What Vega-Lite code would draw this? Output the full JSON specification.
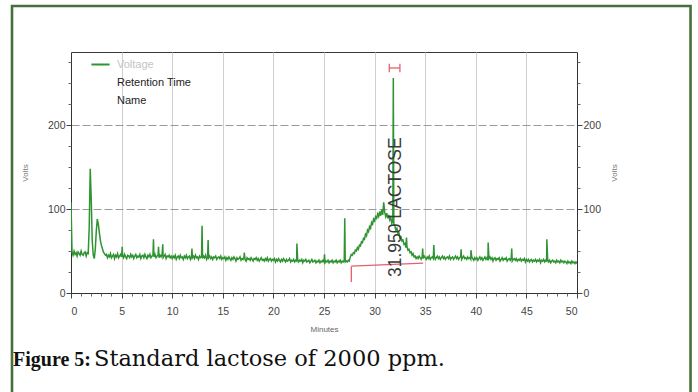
{
  "$schema": "https://vega.github.io/schema/vega-lite/v6.json",
  "autosize": "none",
  "width": 506,
  "height": 241,
  "padding": {"left": 71, "top": 52, "right": 121, "bottom": 99},
  "background": "white",
  "config": {
    "view": {"stroke": "#3a3a3a", "strokeWidth": 1},
    "axis": {"labelFont": "Liberation Sans", "titleFont": "Liberation Sans", "titleFontWeight": "normal"}
  },
  "datasets": {
    "trace": [
      {"t":0,"v":108},{"t":0.1,"v":49},{"t":0.2,"v":45},{"t":0.3,"v":50},{"t":0.4,"v":46},{"t":0.5,"v":48},{"t":0.6,"v":44},{"t":0.7,"v":49},{"t":0.8,"v":47},{"t":0.9,"v":45},
      {"t":1.0,"v":50},{"t":1.1,"v":46},{"t":1.2,"v":45},{"t":1.3,"v":48},{"t":1.4,"v":49},{"t":1.5,"v":44},{"t":1.6,"v":48},{"t":1.7,"v":47},{"t":1.8,"v":78},{"t":1.9,"v":148},
      {"t":2.0,"v":112},{"t":2.1,"v":62},{"t":2.2,"v":45},{"t":2.3,"v":41},{"t":2.4,"v":52},{"t":2.5,"v":74},{"t":2.6,"v":88},{"t":2.7,"v":82},{"t":2.8,"v":72},{"t":2.9,"v":63},
      {"t":3.0,"v":57},{"t":3.1,"v":53},{"t":3.2,"v":49},{"t":3.3,"v":47},{"t":3.4,"v":45},{"t":3.5,"v":46},{"t":3.6,"v":42},{"t":3.7,"v":45},{"t":3.8,"v":43},{"t":3.9,"v":47},
      {"t":4.0,"v":42},{"t":4.1,"v":44},{"t":4.2,"v":46},{"t":4.3,"v":41},{"t":4.4,"v":45},{"t":4.5,"v":43},{"t":4.6,"v":47},{"t":4.7,"v":42},{"t":4.8,"v":44},{"t":4.9,"v":46},
      {"t":5.0,"v":43},{"t":5.06,"v":55},{"t":5.1,"v":45},{"t":5.2,"v":42},{"t":5.3,"v":46},{"t":5.4,"v":43},{"t":5.5,"v":41},{"t":5.6,"v":45},{"t":5.7,"v":44},{"t":5.8,"v":42},{"t":5.9,"v":46},
      {"t":6.0,"v":43},{"t":6.1,"v":45},{"t":6.2,"v":41},{"t":6.3,"v":44},{"t":6.4,"v":46},{"t":6.5,"v":42},{"t":6.6,"v":44},{"t":6.7,"v":43},{"t":6.8,"v":46},{"t":6.9,"v":41},
      {"t":7.0,"v":44},{"t":7.1,"v":45},{"t":7.2,"v":42},{"t":7.3,"v":46},{"t":7.4,"v":43},{"t":7.5,"v":41},{"t":7.6,"v":45},{"t":7.7,"v":43},{"t":7.8,"v":46},{"t":7.9,"v":42},
      {"t":8.0,"v":44},{"t":8.1,"v":45},{"t":8.15,"v":64},{"t":8.2,"v":43},{"t":8.3,"v":46},{"t":8.4,"v":42},{"t":8.5,"v":44},{"t":8.6,"v":45},{"t":8.65,"v":55},{"t":8.7,"v":42},{"t":8.8,"v":45},{"t":8.9,"v":43},
      {"t":9.0,"v":46},{"t":9.07,"v":58},{"t":9.1,"v":42},{"t":9.2,"v":44},{"t":9.3,"v":46},{"t":9.4,"v":41},{"t":9.5,"v":44},{"t":9.6,"v":43},{"t":9.7,"v":45},{"t":9.8,"v":42},{"t":9.9,"v":44},
      {"t":10.0,"v":41},{"t":10.1,"v":44},{"t":10.2,"v":42},{"t":10.3,"v":45},{"t":10.4,"v":40},{"t":10.5,"v":43},{"t":10.6,"v":44},{"t":10.7,"v":41},{"t":10.8,"v":45},{"t":10.9,"v":42},
      {"t":11.0,"v":43},{"t":11.1,"v":40},{"t":11.2,"v":44},{"t":11.3,"v":42},{"t":11.4,"v":45},{"t":11.5,"v":41},{"t":11.6,"v":43},{"t":11.7,"v":44},{"t":11.8,"v":40},{"t":11.9,"v":43},{"t":11.95,"v":53},
      {"t":12.0,"v":42},{"t":12.1,"v":44},{"t":12.2,"v":41},{"t":12.3,"v":45},{"t":12.4,"v":42},{"t":12.5,"v":43},{"t":12.6,"v":40},{"t":12.7,"v":44},{"t":12.8,"v":42},{"t":12.9,"v":43},{"t":12.95,"v":80},
      {"t":13.0,"v":41},{"t":13.1,"v":44},{"t":13.2,"v":42},{"t":13.3,"v":45},{"t":13.4,"v":40},{"t":13.5,"v":43},{"t":13.55,"v":63},{"t":13.6,"v":42},{"t":13.7,"v":44},{"t":13.8,"v":41},{"t":13.9,"v":43},
      {"t":14.0,"v":40},{"t":14.1,"v":43},{"t":14.2,"v":42},{"t":14.3,"v":44},{"t":14.4,"v":40},{"t":14.5,"v":42},{"t":14.6,"v":43},{"t":14.7,"v":41},{"t":14.8,"v":44},{"t":14.9,"v":40},
      {"t":15.0,"v":42},{"t":15.1,"v":41},{"t":15.2,"v":43},{"t":15.3,"v":39},{"t":15.4,"v":42},{"t":15.5,"v":40},{"t":15.6,"v":43},{"t":15.7,"v":41},{"t":15.8,"v":39},{"t":15.9,"v":42},
      {"t":16.0,"v":40},{"t":16.1,"v":43},{"t":16.2,"v":41},{"t":16.3,"v":38},{"t":16.4,"v":42},{"t":16.5,"v":40},{"t":16.6,"v":41},{"t":16.7,"v":43},{"t":16.8,"v":39},{"t":16.9,"v":41},
      {"t":17.0,"v":40},{"t":17.1,"v":43},{"t":17.12,"v":48},{"t":17.2,"v":40},{"t":17.3,"v":38},{"t":17.4,"v":42},{"t":17.5,"v":40},{"t":17.6,"v":41},{"t":17.7,"v":39},{"t":17.8,"v":42},{"t":17.9,"v":40},
      {"t":18.0,"v":38},{"t":18.1,"v":41},{"t":18.2,"v":40},{"t":18.3,"v":42},{"t":18.4,"v":39},{"t":18.5,"v":41},{"t":18.6,"v":38},{"t":18.7,"v":40},{"t":18.8,"v":42},{"t":18.9,"v":39},
      {"t":19.0,"v":40},{"t":19.1,"v":38},{"t":19.2,"v":41},{"t":19.3,"v":39},{"t":19.4,"v":42},{"t":19.5,"v":38},{"t":19.6,"v":40},{"t":19.7,"v":41},{"t":19.8,"v":38},{"t":19.9,"v":40},
      {"t":20.0,"v":39},{"t":20.1,"v":41},{"t":20.2,"v":37},{"t":20.3,"v":40},{"t":20.4,"v":38},{"t":20.5,"v":41},{"t":20.6,"v":39},{"t":20.7,"v":37},{"t":20.8,"v":40},{"t":20.9,"v":38},
      {"t":21.0,"v":41},{"t":21.1,"v":39},{"t":21.2,"v":37},{"t":21.3,"v":40},{"t":21.4,"v":38},{"t":21.5,"v":39},{"t":21.6,"v":41},{"t":21.7,"v":37},{"t":21.8,"v":39},{"t":21.9,"v":38},
      {"t":22.0,"v":40},{"t":22.1,"v":37},{"t":22.2,"v":39},{"t":22.3,"v":38},{"t":22.32,"v":59},{"t":22.4,"v":40},{"t":22.5,"v":37},{"t":22.6,"v":39},{"t":22.7,"v":38},{"t":22.8,"v":40},{"t":22.9,"v":36},
      {"t":23.0,"v":39},{"t":23.1,"v":38},{"t":23.2,"v":40},{"t":23.3,"v":37},{"t":23.4,"v":38},{"t":23.5,"v":39},{"t":23.6,"v":36},{"t":23.7,"v":38},{"t":23.8,"v":40},{"t":23.9,"v":37},
      {"t":24.0,"v":38},{"t":24.1,"v":39},{"t":24.2,"v":36},{"t":24.3,"v":38},{"t":24.4,"v":37},{"t":24.5,"v":39},{"t":24.6,"v":36},{"t":24.7,"v":38},{"t":24.8,"v":37},{"t":24.9,"v":39},
      {"t":25.0,"v":37},{"t":25.05,"v":46},{"t":25.1,"v":36},{"t":25.2,"v":38},{"t":25.3,"v":37},{"t":25.4,"v":39},{"t":25.5,"v":36},{"t":25.6,"v":38},{"t":25.7,"v":37},{"t":25.8,"v":39},{"t":25.9,"v":36},
      {"t":26.0,"v":38},{"t":26.1,"v":37},{"t":26.2,"v":39},{"t":26.3,"v":36},{"t":26.4,"v":38},{"t":26.5,"v":37},{"t":26.6,"v":39},{"t":26.7,"v":36},{"t":26.8,"v":38},{"t":26.9,"v":37},
      {"t":27.0,"v":39},{"t":27.05,"v":89},{"t":27.1,"v":37},{"t":27.2,"v":38},{"t":27.3,"v":37},{"t":27.4,"v":39},{"t":27.5,"v":38},{"t":27.6,"v":43},{"t":27.7,"v":46},{"t":27.8,"v":45},{"t":27.9,"v":48},
      {"t":28.0,"v":47},{"t":28.1,"v":51},{"t":28.2,"v":50},{"t":28.3,"v":54},{"t":28.4,"v":52},{"t":28.5,"v":57},{"t":28.6,"v":56},{"t":28.7,"v":61},{"t":28.8,"v":60},{"t":28.9,"v":65},
      {"t":29.0,"v":64},{"t":29.1,"v":70},{"t":29.2,"v":68},{"t":29.3,"v":75},{"t":29.4,"v":73},{"t":29.5,"v":79},{"t":29.6,"v":77},{"t":29.7,"v":84},{"t":29.8,"v":82},{"t":29.9,"v":88},
      {"t":30.0,"v":86},{"t":30.1,"v":91},{"t":30.2,"v":89},{"t":30.3,"v":94},{"t":30.4,"v":91},{"t":30.5,"v":97},{"t":30.6,"v":92},{"t":30.7,"v":99},{"t":30.8,"v":93},{"t":30.9,"v":108},
      {"t":31.0,"v":96},{"t":31.1,"v":91},{"t":31.2,"v":95},{"t":31.3,"v":89},{"t":31.4,"v":93},{"t":31.5,"v":87},{"t":31.6,"v":90},{"t":31.7,"v":83},{"t":31.8,"v":86},{"t":31.85,"v":256},{"t":31.9,"v":82},
      {"t":32.0,"v":80},{"t":32.1,"v":75},{"t":32.2,"v":77},{"t":32.3,"v":71},{"t":32.4,"v":72},{"t":32.5,"v":66},{"t":32.6,"v":67},{"t":32.7,"v":62},{"t":32.8,"v":63},{"t":32.9,"v":58},
      {"t":33.0,"v":59},{"t":33.1,"v":54},{"t":33.15,"v":66},{"t":33.2,"v":55},{"t":33.3,"v":51},{"t":33.4,"v":52},{"t":33.5,"v":48},{"t":33.6,"v":49},{"t":33.7,"v":45},{"t":33.8,"v":47},{"t":33.9,"v":43},
      {"t":34.0,"v":44},{"t":34.1,"v":41},{"t":34.2,"v":43},{"t":34.3,"v":41},{"t":34.4,"v":44},{"t":34.5,"v":42},{"t":34.6,"v":40},{"t":34.7,"v":43},{"t":34.75,"v":53},{"t":34.8,"v":41},{"t":34.9,"v":44},
      {"t":35.0,"v":42},{"t":35.1,"v":40},{"t":35.2,"v":43},{"t":35.3,"v":41},{"t":35.4,"v":44},{"t":35.5,"v":40},{"t":35.6,"v":42},{"t":35.7,"v":43},{"t":35.8,"v":41},{"t":35.85,"v":57},{"t":35.9,"v":44},
      {"t":36.0,"v":40},{"t":36.1,"v":42},{"t":36.2,"v":44},{"t":36.3,"v":41},{"t":36.4,"v":43},{"t":36.5,"v":40},{"t":36.6,"v":42},{"t":36.7,"v":44},{"t":36.8,"v":41},{"t":36.9,"v":43},
      {"t":37.0,"v":40},{"t":37.1,"v":42},{"t":37.2,"v":43},{"t":37.3,"v":41},{"t":37.4,"v":44},{"t":37.5,"v":40},{"t":37.6,"v":42},{"t":37.7,"v":43},{"t":37.8,"v":40},{"t":37.9,"v":42},
      {"t":38.0,"v":44},{"t":38.1,"v":41},{"t":38.2,"v":43},{"t":38.3,"v":40},{"t":38.4,"v":42},{"t":38.5,"v":43},{"t":38.55,"v":52},{"t":38.6,"v":40},{"t":38.7,"v":42},{"t":38.8,"v":44},{"t":38.9,"v":41},
      {"t":39.0,"v":42},{"t":39.1,"v":40},{"t":39.2,"v":43},{"t":39.3,"v":41},{"t":39.4,"v":42},{"t":39.5,"v":40},{"t":39.52,"v":51},{"t":39.6,"v":43},{"t":39.7,"v":41},{"t":39.8,"v":39},{"t":39.9,"v":42},
      {"t":40.0,"v":40},{"t":40.1,"v":42},{"t":40.2,"v":39},{"t":40.3,"v":41},{"t":40.4,"v":43},{"t":40.5,"v":40},{"t":40.6,"v":42},{"t":40.7,"v":39},{"t":40.8,"v":41},{"t":40.9,"v":43},
      {"t":41.0,"v":40},{"t":41.1,"v":42},{"t":41.2,"v":39},{"t":41.22,"v":60},{"t":41.3,"v":41},{"t":41.4,"v":43},{"t":41.5,"v":40},{"t":41.6,"v":42},{"t":41.7,"v":38},{"t":41.8,"v":41},{"t":41.9,"v":42},
      {"t":42.0,"v":39},{"t":42.1,"v":41},{"t":42.2,"v":40},{"t":42.3,"v":42},{"t":42.4,"v":38},{"t":42.5,"v":40},{"t":42.6,"v":42},{"t":42.7,"v":39},{"t":42.8,"v":41},{"t":42.9,"v":40},
      {"t":43.0,"v":42},{"t":43.1,"v":38},{"t":43.2,"v":40},{"t":43.3,"v":41},{"t":43.4,"v":39},{"t":43.5,"v":42},{"t":43.55,"v":53},{"t":43.6,"v":38},{"t":43.7,"v":40},{"t":43.8,"v":41},{"t":43.9,"v":39},
      {"t":44.0,"v":41},{"t":44.1,"v":38},{"t":44.2,"v":40},{"t":44.3,"v":39},{"t":44.4,"v":41},{"t":44.5,"v":38},{"t":44.6,"v":40},{"t":44.7,"v":39},{"t":44.8,"v":41},{"t":44.9,"v":37},
      {"t":45.0,"v":40},{"t":45.1,"v":38},{"t":45.2,"v":40},{"t":45.3,"v":37},{"t":45.4,"v":39},{"t":45.5,"v":40},{"t":45.6,"v":37},{"t":45.7,"v":39},{"t":45.8,"v":38},{"t":45.9,"v":40},
      {"t":46.0,"v":37},{"t":46.1,"v":39},{"t":46.2,"v":38},{"t":46.3,"v":40},{"t":46.4,"v":36},{"t":46.5,"v":39},{"t":46.6,"v":38},{"t":46.7,"v":40},{"t":46.8,"v":37},{"t":46.9,"v":39},
      {"t":47.0,"v":38},{"t":47.02,"v":64},{"t":47.1,"v":40},{"t":47.2,"v":37},{"t":47.3,"v":39},{"t":47.4,"v":36},{"t":47.5,"v":38},{"t":47.6,"v":39},{"t":47.7,"v":37},{"t":47.8,"v":38},{"t":47.9,"v":36},
      {"t":48.0,"v":39},{"t":48.1,"v":37},{"t":48.2,"v":38},{"t":48.3,"v":36},{"t":48.4,"v":39},{"t":48.5,"v":37},{"t":48.6,"v":38},{"t":48.7,"v":36},{"t":48.8,"v":38},{"t":48.9,"v":37},
      {"t":49.0,"v":35},{"t":49.1,"v":38},{"t":49.2,"v":36},{"t":49.3,"v":37},{"t":49.4,"v":35},{"t":49.5,"v":38},{"t":49.6,"v":36},{"t":49.7,"v":37},{"t":49.8,"v":35},{"t":49.9,"v":37},
      {"t":50.0,"v":35}
    ],
    "integ": [
      {"t":27.7,"t2":34.8,"v":32,"v2":35.5},
      {"t":27.7,"t2":27.7,"v":13,"v2":32},
      {"t":31.45,"t2":32.5,"v":268,"v2":268},
      {"t":31.45,"t2":31.45,"v":263,"v2":273},
      {"t":32.5,"t2":32.5,"v":263,"v2":273}
    ],
    "peak": [{"rt":31.95,"label":"31.950 LACTOSE"}]
  },
  "layer": [
    {
      "data": {"name": "trace"},
      "mark": {"type": "line", "strokeWidth": 1.5, "clip": true},
      "encoding": {
        "x": {"field": "t", "type": "quantitative",
          "scale": {"domain": [0, 50], "nice": false, "zero": false},
          "axis": {"title": "Minutes", "values": [0,5,10,15,20,25,30,35,40,45,50], "labelFontSize": 10.5, "labelColor": "#444", "tickColor": "#444", "tickSize": 5, "labelPadding": 8, "domainColor": "#333", "grid": true, "gridColor": "#cfcfcf", "titleFontSize": 8, "titleColor": "#666", "titlePadding": 9}},
        "y": {"field": "v", "type": "quantitative",
          "scale": {"domain": [0, 287], "nice": false, "zero": false},
          "axis": {"orient": "left", "title": "Volts", "values": [0,100,200], "labelFontSize": 10.5, "labelColor": "#444", "tickColor": "#444", "tickSize": 5, "labelPadding": 1, "domainColor": "#333", "grid": true, "gridColor": "#9a9a9a", "gridDash": [8,3], "titleFontSize": 8, "titleColor": "#777", "titlePadding": 18}},
        "color": {"datum": "Voltage", "type": "nominal",
          "scale": {"domain": ["Voltage", "Retention Time", "Name"], "range": ["#2f9332", "rgba(0,0,0,0)", "rgba(0,0,0,0)"]},
          "legend": {"orient": "none", "legendX": 19, "legendY": 2, "title": null, "symbolType": "stroke", "symbolSize": 330, "symbolStrokeWidth": 2, "labelFont": "Liberation Sans", "labelFontSize": 11, "labelColor": {"expr": "datum.label == 'Voltage' ? '#c4c4c4' : '#222'"}, "labelOffset": 6, "rowPadding": 2}}
      }
    },
    {
      "data": {"name": "integ"},
      "mark": {"type": "rule", "color": "#e4606c", "strokeWidth": 1.3},
      "encoding": {
        "x": {"field": "t", "type": "quantitative", "axis": null},
        "x2": {"field": "t2"},
        "y": {"field": "v", "type": "quantitative",
          "axis": {"orient": "right", "title": "Volts", "titleAngle": 270, "values": [0,100,200], "grid": false, "labelFontSize": 10.5, "labelColor": "#444", "tickColor": "#444", "tickSize": 5, "labelPadding": 1, "domainColor": "#333", "titleFontSize": 8, "titleColor": "#777", "titlePadding": 18}},
        "y2": {"field": "v2"}
      }
    },
    {
      "data": {"values": [{}]},
      "mark": {"type": "point", "opacity": 0},
      "encoding": {
        "x": {"datum": 0, "type": "quantitative",
          "axis": {"orient": "bottom", "title": null, "labels": false, "domain": false, "grid": false, "tickSize": 3, "tickColor": "#666", "values": [1,2,3,4,6,7,8,9,11,12,13,14,16,17,18,19,21,22,23,24,26,27,28,29,31,32,33,34,36,37,38,39,41,42,43,44,46,47,48,49]}},
        "y": {"datum": 0, "type": "quantitative",
          "axis": {"orient": "left", "title": null, "labels": false, "domain": false, "grid": false, "tickSize": 3, "tickColor": "#666", "values": [25,50,75,125,150,175,225,250,275]}}
      }
    },
    {
      "data": {"values": [{}]},
      "mark": {"type": "point", "opacity": 0},
      "encoding": {
        "x": {"datum": 0, "type": "quantitative", "axis": null},
        "y": {"datum": 0, "type": "quantitative",
          "axis": {"orient": "right", "title": null, "labels": false, "domain": false, "grid": false, "tickSize": 3, "tickColor": "#666", "values": [25,50,75,125,150,175,225,250,275]}}
      }
    },
    {
      "data": {"name": "peak"},
      "mark": {"type": "text", "angle": 270, "align": "left", "baseline": "middle", "font": "Liberation Sans", "fontSize": 17.5, "color": "#3a3a3a", "dy": 2},
      "encoding": {
        "x": {"field": "rt", "type": "quantitative", "axis": null},
        "y": {"datum": 19, "type": "quantitative", "axis": null},
        "text": {"field": "label"}
      }
    },
    {
      "data": {"values": [{}]},
      "mark": {"type": "rect", "filled": false, "stroke": "#46703b", "strokeWidth": 2.6, "clip": false},
      "encoding": {
        "x": {"datum": -5.83, "type": "quantitative", "axis": null},
        "x2": {"datum": 61.22},
        "y": {"datum": 341.8, "type": "quantitative", "axis": null},
        "y2": {"datum": -127.4}
      }
    },
    {
      "data": {"values": [{}]},
      "mark": {"type": "text", "text": "Figure 5:", "font": "Liberation Serif", "fontWeight": "bold", "fontSize": 20, "align": "left", "baseline": "alphabetic", "color": "#111", "clip": false},
      "encoding": {
        "x": {"datum": -5.73, "type": "quantitative", "axis": null},
        "y": {"datum": -86.9, "type": "quantitative", "axis": null}
      }
    },
    {
      "data": {"values": [{}]},
      "mark": {"type": "text", "text": "Standard lactose of 2000 ppm.", "font": "DejaVu Serif", "fontSize": 22.5, "align": "left", "baseline": "alphabetic", "color": "#111", "clip": false},
      "encoding": {
        "x": {"datum": 2.27, "type": "quantitative", "axis": null},
        "y": {"datum": -86.9, "type": "quantitative", "axis": null}
      }
    }
  ],
  "resolve": {"axis": {"x": "independent", "y": "independent"}}
}
